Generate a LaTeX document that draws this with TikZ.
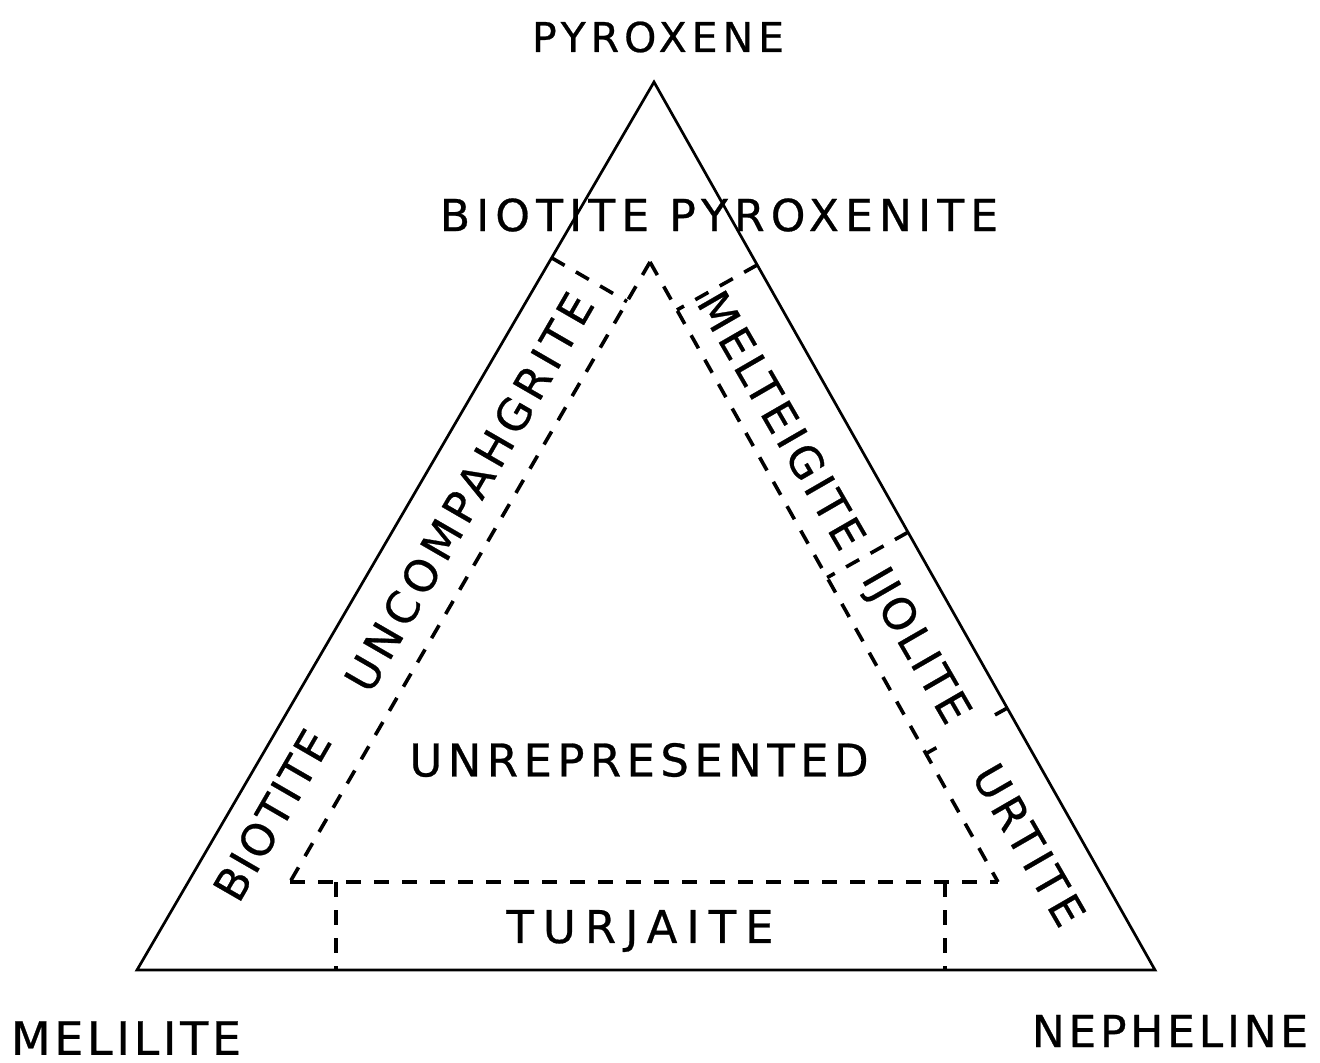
\documentclass[tikz,border=0pt]{standalone}
\usepackage{fontspec}
\setmainfont{DejaVu Sans}[FakeBold=0.6]
\usetikzlibrary{calc}
\begin{document}
\begin{tikzpicture}[x=0.5pt,y=-0.5pt,
  edge/.style={line width=1.35pt, line join=miter},
  bound/.style={line width=1.8pt, dash pattern=on 7.5pt off 6.5pt},
  lab/.style={inner sep=0pt, anchor=center},
  ls/.style args={#1/#2}{font={\fontsize{#1}{#1}\selectfont\addfontfeature{LetterSpace=#2}}}]
\useasboundingbox (0,0) rectangle (1320,1062);
% outer triangle
\coordinate (A) at (654,82);
\coordinate (L) at (137,970);
\coordinate (R) at (1155,970);
\draw[edge] (A) -- (L) -- (R) -- cycle;
% inner (unrepresented) field
\coordinate (iA) at (650,262);
\coordinate (iL) at (290,882);
\coordinate (iR) at (998,882);
\draw[bound] (iA) -- (iL);
\draw[bound] (iA) -- (iR);
\draw[bound] (iL) -- (iR);
% turjaite field
\coordinate (tL) at (336,882);
\coordinate (tR) at (945,882);
\coordinate (bL) at (336,970);
\coordinate (bR) at (945,970);
\draw[bound] (tL) -- (bL);
\draw[bound] (tR) -- (bR);
% boundaries from sides to inner field
\coordinate (e1) at ($(A)!0.198!(L)$);
\coordinate (f1) at ($(iA)!(e1)!(iL)$);
\draw[bound] (e1) -- (f1);
\coordinate (e2) at ($(A)!0.206!(R)$);
\coordinate (f2) at ($(iA)!(e2)!(iR)$);
\draw[bound] (e2) -- (f2);
\coordinate (e3) at ($(A)!0.507!(R)$);
\coordinate (f3) at ($(iA)!(e3)!(iR)$);
\draw[bound] (e3) -- (f3);
\coordinate (e4) at ($(A)!0.705!(R)$);
\coordinate (f4) at ($(iA)!(e4)!(iR)$);
\coordinate (g4) at ($(e4)!7pt!(f4)$);
\coordinate (h4) at ($(f4)!6pt!(e4)$);
\draw[bound] (e4) -- (g4);
\draw[bound] (f4) -- (h4);
% labels
\node[lab, ls=20.5/12] (pyx) at (658,37) {PYROXENE};
\node[lab, ls=22/14] (bpx) at (719,215) {BIOTITE PYROXENITE};
\node[lab, ls=22/12, rotate=60] (unc) at (469,492) {UNCOMPAHGRITE};
\node[lab, ls=22/6, rotate=60] (bio) at (272,815) {BIOTITE};
\node[lab, ls=22/9, rotate=-60] (mel) at (782,420) {MELTEIGITE};
\node[lab, ls=22/7, rotate=-60] (ijo) at (914,647) {IJOLITE};
\node[lab, ls=22/11, rotate=-60] (urt) at (1029,845) {URTITE};
\node[lab, ls=22.5/12] (unr) at (639,760) {UNREPRESENTED};
\node[lab, ls=22.5/20] (tur) at (640,931) {TURJAITE};
\node[lab, ls=23/8] (mll) at (126,1038) {MELILITE};
\node[lab, ls=22/8.5] (nep) at (1170,1031) {NEPHELINE};
\end{tikzpicture}
\end{document}
